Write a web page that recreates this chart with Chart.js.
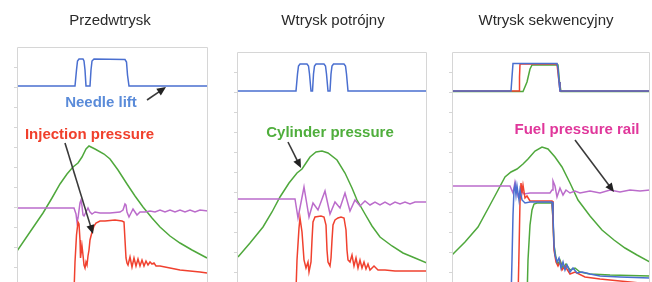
<!DOCTYPE html>
<html>
<head>
<meta charset="utf-8">
<script src="https://cdn.jsdelivr.net/npm/chart.js@4.4.1/dist/chart.umd.min.js"></script>
<style>
  html, body { margin: 0; padding: 0; background: #fff; overflow: hidden; }
  body { width: 652px; height: 282px; position: relative; }
  canvas { position: absolute; top: 0; }
</style>
</head>
<body>
<canvas id="p1" width="211" height="300" style="left:7px"></canvas>
<canvas id="p2" width="210" height="300" style="left:227px"></canvas>
<canvas id="p3" width="210" height="300" style="left:442px"></canvas>
<script>
// titles
var titles = ['Przedwtrysk', 'Wtrysk potrójny', 'Wtrysk sekwencyjny'];

// Przedwtrysk  [x, y]
var p1Needle = [[0,196],[58,196],[59.5,212],[60.5,221],[62,223],[66,223],[67,221],[68,212],[69,196],[73,196],[74,212],[75,221],[77,223],[108,222.5],[109.5,220],[110.5,207],[112,196],[191,196]];
var p1Cyl = [[0,31],[13,50],[26,69],[35,84],[43,98],[50,108],[56,115],[61,119],[65,125],[69,133],[72,136],[78,133],[87,128],[93,123],[101,112],[110,98],[118,86],[126,75],[135,64],[143,55],[153,46],[163,39],[175,32],[190,24]];
var p1Rail = [[0,74],[57,74],[59,68],[60,60],[61,64],[63,79],[64,82],[65,76],[66,67],[67,66],[69,70],[71,74],[73,70],[75,68],[78,70],[83,69],[93,69],[103,70],[106,72],[108,78],[109,77],[110,70],[112,65],[114,69],[116,73],[118,70],[120,67],[123,70],[128,70],[133,71],[138,70],[143,72],[148,70],[153,72],[158,70],[163,72],[168,70],[173,72],[178,70],[183,72],[191,71]];
var p1Inj = [[57,-10],[58,20],[59.5,47],[61,60],[62,58],[63,42],[63.5,24],[64.5,32],[65,36],[66,27],[67,17],[68,14],[69,20],[70,17],[71,26],[72,32],[73,42],[75,50],[77,56],[79,59],[83,61],[88,61],[98,62],[105,61],[107,60],[108,42],[109,24],[110,19],[111,17],[113,25],[115,15],[117,24],[119,16],[121,23],[123,16],[125,22],[127,16],[129,21],[131,17],[133,20],[135,18],[137,19],[139,16],[143,16],[153,14],[163,12],[173,11],[183,10],[190,9]];

// Wtrysk potrójny
var p2Needle = [[0,191],[59,191],[60.5,208],[61.5,216],[63,218],[70,218],[71.5,216],[72.5,208],[74,191],[75.5,191],[76.5,208],[77.5,216],[79,218],[87,218],[88.5,216],[89.5,208],[91,191],[93,191],[94,208],[95,216],[96.5,218],[107,218],[108.5,216],[109.5,208],[111,191],[190,191]];
var p2Cyl = [[1,25],[13,39],[26,55],[35,70],[43,85],[52,99],[60,109],[65,113],[69,119],[73,125],[79,130],[85,131],[91,129],[100,122],[108,109],[115,94],[120,82],[128,68],[135,56],[143,45],[155,36],[166,29],[178,24],[190,19]];
var p2Rail = [[0,83],[58,83],[61,64],[67,95],[72,65],[76,79],[81,72],[88,91],[93,68],[98,80],[103,74],[108,89],[113,71],[118,82],[123,76],[128,81],[133,77],[138,80],[143,77],[148,80],[153,77],[158,80],[163,78],[168,80],[173,78],[178,80],[190,80]];
var p2Inj = [[59,-8],[60,22],[62,54],[63,64],[65,50],[67,22],[69,14],[71,20],[72,10],[74,20],[75,42],[76,60],[78,65],[84,66],[87,65],[89,57],[90,32],[91,20],[93,16],[94,24],[95,42],[96,57],[98,62],[101,64],[104,65],[107,64],[109,52],[110,32],[111,22],[113,20],[115,27],[117,16],[119,24],[121,14],[123,22],[125,14],[127,20],[129,13],[131,18],[133,12],[137,16],[141,12],[148,12],[158,11],[173,11],[190,11]];

// Wtrysk sekwencyjny
var p3NeedleA = [[0,191],[59,191],[60,205],[61,218.5],[105,218.5],[106,214],[107,200],[108,191],[198,191]];
var p3NeedleB = [[0,191],[67,191],[67.5,205],[68,218],[105,218],[107,200],[108,191],[198,191]];
var p3NeedleC = [[0,190.5],[71,190.5],[75,200],[78,213],[80,217],[106,217],[107.5,200],[109,190.5],[198,190.5]];
var p3Cyl = [[0,27],[13,40],[26,55],[38,77],[45,90],[53,105],[59,110],[65,113],[71,118],[76,123],[83,131],[90,135],[96,133],[103,125],[110,115],[118,99],[126,82],[138,66],[150,52],[162,42],[173,34],[185,27],[198,20]];
var p3Rail = [[0,96],[58,96],[61,89],[63,100],[66,86],[69,92],[72,88],[78,89],[88,89],[98,89],[100,92],[101,101],[103,96],[105,85],[108,94],[111,87],[114,92],[118,89],[123,91],[128,89],[138,91],[148,89],[158,92],[168,90],[178,92],[188,91],[198,92]];
var p3InjA = [[59,-18],[60,22],[61,67],[62,92],[63,97],[64,87],[65,96],[67,82],[68,92],[70,82],[73,79],[78,80],[88,80],[100,80],[101,67],[102,37],[103,27],[105,20],[107,24],[109,14],[111,20],[113,12],[115,17],[118,10],[121,14],[125,9],[130,10],[138,8],[148,6],[168,5],[198,4]];
var p3InjB = [[66,-18],[67,30],[68,80],[69,99],[70,90],[71,97],[73,84],[75,86],[78,81],[88,81],[100,81],[101,62],[102,32],[104,20],[106,16],[108,20],[110,12],[113,16],[118,8],[123,10],[133,5],[148,3],[168,1],[198,-2]];
var p3InjC = [[75,-18],[76,22],[78,57],[80,72],[82,78],[85,79],[93,79],[100,79],[101,62],[102,37],[104,24],[106,18],[108,22],[111,14],[114,18],[118,12],[123,14],[128,10],[138,8],[158,7],[198,6]];

var BLUE = '#4a6fd0', RED = '#f0412f', GREEN = '#4fa83c', PURPLE = '#bb6ccb';

function pts(a) { return a.map(function (p) { return {x: p[0], y: p[1]}; }); }
function line(data, color, order) {
    return { data: pts(data), borderColor: color, borderWidth: 1.5, pointRadius: 0, tension: 0, order: order };
}

// frame, left ticks, title, labels with arrows
var decor = {
    id: 'decor',
    afterDatasetsDraw: function (chart, args, opts) {
        var ctx = chart.ctx, a = chart.chartArea, xs = chart.scales.x, ys = chart.scales.y;
        ctx.save();
        ctx.strokeStyle = '#d6d6d6';
        ctx.lineWidth = 1;
        ctx.beginPath();
        ctx.moveTo(a.left + 0.5, a.bottom + 20);
        ctx.lineTo(a.left + 0.5, a.top + 0.5);
        ctx.lineTo(a.right - 0.5, a.top + 0.5);
        ctx.lineTo(a.right - 0.5, a.bottom + 20);
        opts.ticks.forEach(function (v) {
            var y = Math.round(ys.getPixelForValue(v)) + 0.5;
            ctx.moveTo(a.left - 3, y);
            ctx.lineTo(a.left, y);
        });
        ctx.stroke();

        ctx.fillStyle = '#2a2a2a';
        ctx.font = '15px "Liberation Sans", Arial, sans-serif';
        ctx.textAlign = 'center';
        ctx.textBaseline = 'middle';
        ctx.fillText(opts.title, xs.getPixelForValue(opts.titleX), 21);

        opts.labels.forEach(function (l) {
            ctx.fillStyle = l.color;
            ctx.font = 'bold 15px "Liberation Sans", Arial, sans-serif';
            ctx.fillText(l.text, xs.getPixelForValue(l.x), ys.getPixelForValue(l.y));
            var x0 = xs.getPixelForValue(l.arrow[0]), y0 = ys.getPixelForValue(l.arrow[1]);
            var x1 = xs.getPixelForValue(l.arrow[2]), y1 = ys.getPixelForValue(l.arrow[3]);
            var ang = Math.atan2(y1 - y0, x1 - x0), len = 9, w = 4;
            ctx.strokeStyle = '#3a3a3a';
            ctx.fillStyle = '#222';
            ctx.lineWidth = 1.6;
            ctx.beginPath();
            ctx.moveTo(x0, y0);
            ctx.lineTo(x1 - Math.cos(ang) * len * 0.8, y1 - Math.sin(ang) * len * 0.8);
            ctx.stroke();
            ctx.beginPath();
            ctx.moveTo(x1, y1);
            ctx.lineTo(x1 - Math.cos(ang) * len - Math.sin(ang) * w, y1 - Math.sin(ang) * len + Math.cos(ang) * w);
            ctx.lineTo(x1 - Math.cos(ang) * len + Math.sin(ang) * w, y1 - Math.sin(ang) * len - Math.cos(ang) * w);
            ctx.closePath();
            ctx.fill();
        });
        ctx.restore();
    }
};

function panel(id, datasets, xMax, yMax, top, right, deco) {
    return new Chart(document.getElementById(id), {
        type: 'line',
        data: { datasets: datasets },
        options: {
            responsive: false,
            animation: false,
            layout: { padding: { top: top, left: 10, right: right, bottom: 18 } },
            scales: {
                x: { type: 'linear', min: 0, max: xMax, display: false },
                y: { min: 0, max: yMax, display: false }
            },
            plugins: { legend: { display: false }, tooltip: { enabled: false }, decor: deco }
        },
        plugins: [decor]
    });
}

panel('p1', [
    line(p1Needle, BLUE, 1),
    line(p1Inj, RED, 2),
    line(p1Rail, PURPLE, 3),
    line(p1Cyl, GREEN, 4)
], 191, 235, 47, 10, {
    title: titles[0], titleX: 93,
    ticks: [15, 35, 55, 75, 95, 115, 135, 155, 175, 195, 215],
    labels: [
        { text: 'Needle lift', color: '#5a8bd9', x: 84, y: 179, arrow: [130, 182, 149, 195] },
        { text: 'Injection pressure', color: '#f0402c', x: 72.5, y: 147, arrow: [48, 139, 76, 48] }
    ]
});

panel('p2', [
    line(p2Needle, BLUE, 1),
    line(p2Inj, RED, 2),
    line(p2Rail, PURPLE, 3),
    line(p2Cyl, GREEN, 4)
], 190, 230, 52, 10, {
    title: titles[1], titleX: 96,
    ticks: [10, 30, 50, 70, 90, 110, 130, 150, 170, 190, 210],
    labels: [
        { text: 'Cylinder pressure', color: '#4fae3c', x: 93, y: 149, arrow: [51, 140, 64, 114] }
    ]
});

panel('p3', [
    line(p3NeedleA, BLUE, 1),
    line(p3NeedleB, RED, 2),
    line(p3NeedleC, GREEN, 3),
    line(p3InjA, BLUE, 4),
    line(p3InjB, RED, 5),
    line(p3InjC, GREEN, 6),
    line(p3Rail, PURPLE, 7),
    line(p3Cyl, GREEN, 8)
], 198, 230, 52, 2, {
    title: titles[2], titleX: 94,
    ticks: [10, 30, 50, 70, 90, 110, 130, 150, 170, 190, 210],
    labels: [
        { text: 'Fuel pressure rail', color: '#e0379b', x: 125, y: 152, arrow: [123, 142, 162, 90] }
    ]
});
</script>
</body>
</html>
